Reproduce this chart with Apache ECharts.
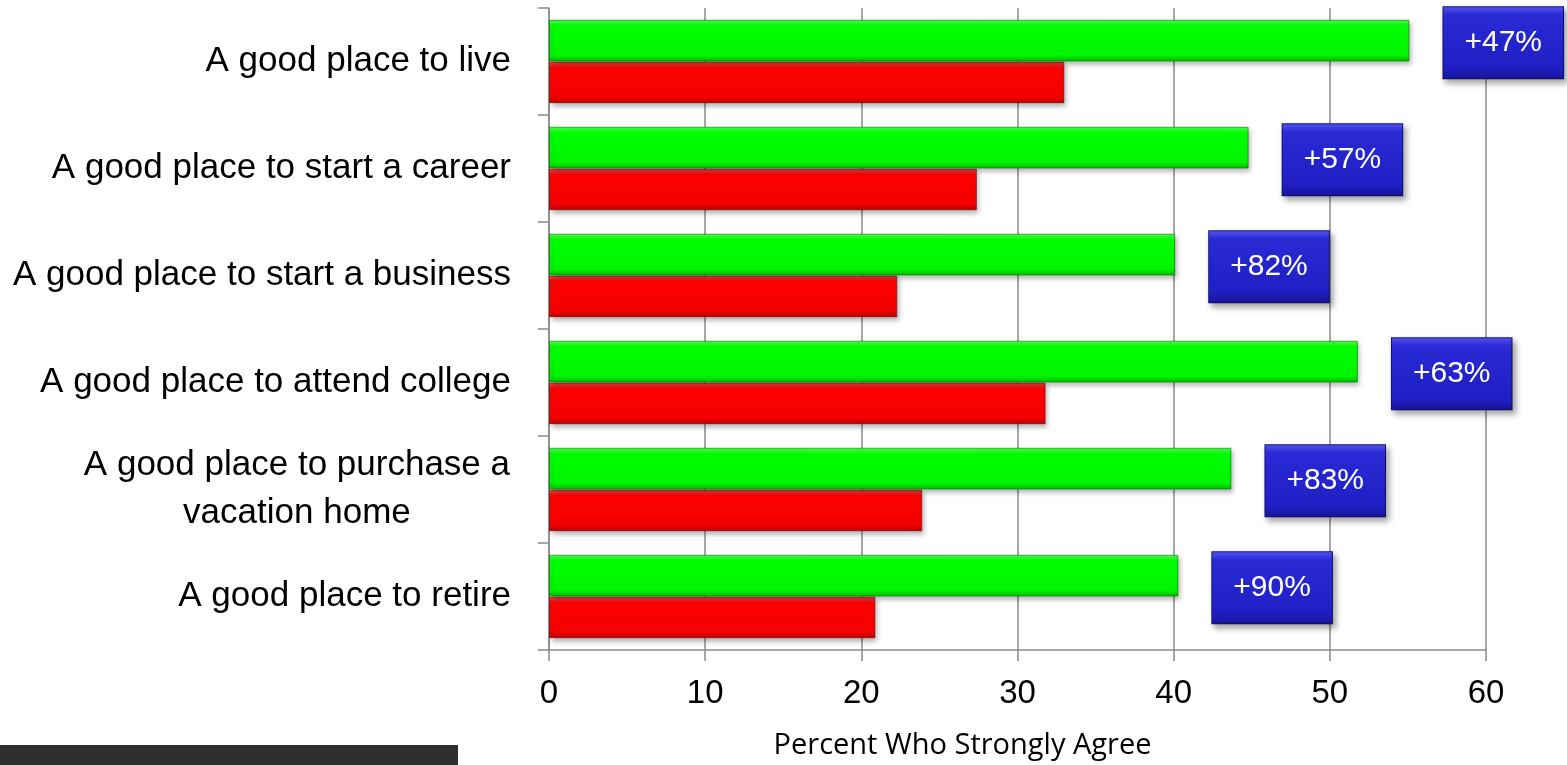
<!DOCTYPE html>
<html>
<head>
<meta charset="utf-8">
<script src="https://cdn.jsdelivr.net/npm/echarts@6/dist/echarts.min.js"></script>
<style>
  html, body { margin: 0; padding: 0; background: #ffffff; }
  #chart { width: 1567px; height: 765px; }
</style>
</head>
<body>
<div id="chart"></div>
<script>
// Categories, listed top to bottom
const categories = [
  'A good place to live',
  'A good place to start a career',
  'A good place to start a business',
  'A good place to attend college',
  'A good place to purchase a\nvacation home',
  'A good place to retire'
];
// Percent who strongly agree
const recentValues  = [55.1, 44.8, 40.1, 51.8, 43.7, 40.3];
const earlierValues = [33.0, 27.4, 22.3, 31.8, 23.9, 20.9];
// Change callouts shown beside each green bar
const changeLabels = ['+47%', '+57%', '+82%', '+63%', '+83%', '+90%'];
// Value-axis ticks
const xTicks = [0, 10, 20, 30, 40, 50, 60];

// Pick a condensed face for the category labels when one is installed
function measure(font, text) {
  const ctx = document.createElement('canvas').getContext('2d');
  ctx.font = font;
  return ctx.measureText(text).width;
}
const probe = 'A good place to start a business';
const hasNarrow = measure('40px "Liberation Sans Narrow", monospace', probe) !==
                  measure('40px monospace', probe);
const catFamily = hasNarrow ? '"Liberation Sans Narrow", "Arial Narrow", sans-serif'
                            : '"Liberation Sans", Arial, sans-serif';
const catSize = hasNarrow ? 41 : 35;

// Width of the widest line of a multi-line category, so lines can be centred
function multiLineWidth(label) {
  return Math.max.apply(null, label.split('\n').map(function (l) {
    return measure(catSize + 'px ' + catFamily, l);
  })) + 2;
}
const multiW = Math.max.apply(null, categories.filter(function (c) {
  return c.indexOf('\n') >= 0;
}).map(multiLineWidth).concat([10]));

const gray = '#8a8a8a';

function barGradient(light, base, mid, dark) {
  return new echarts.graphic.LinearGradient(0, 0, 0, 1, [
    { offset: 0, color: light },
    { offset: 0.15, color: base },
    { offset: 0.85, color: mid },
    { offset: 1, color: dark }
  ]);
}

const boxFill = new echarts.graphic.LinearGradient(0, 0, 0, 1, [
  { offset: 0, color: '#5656ee' },
  { offset: 0.12, color: '#2a2ad6' },
  { offset: 0.85, color: '#1f1fc4' },
  { offset: 1, color: '#15159a' }
]);

const chart = echarts.init(document.getElementById('chart'), null, { renderer: 'canvas' });

chart.setOption({
  animation: false,
  backgroundColor: '#ffffff',
  grid: { left: 549, right: 81, top: 8, bottom: 114 },
  xAxis: {
    type: 'value',
    min: xTicks[0],
    max: xTicks[xTicks.length - 1],
    interval: xTicks[1] - xTicks[0],
    name: 'Percent Who Strongly Agree',
    nameLocation: 'middle',
    nameGap: 81,
    nameTextStyle: {
      fontFamily: '"Open Sans", Lato, sans-serif',
      fontSize: 29,
      color: '#000000',
      padding: [0, 110, 0, 0]
    },
    axisLine: { show: true, lineStyle: { color: gray, width: 1.5 } },
    axisTick: { show: true, length: 11, lineStyle: { color: gray, width: 1.5 } },
    axisLabel: {
      margin: 27,
      fontFamily: '"Liberation Sans", Arial, sans-serif',
      fontSize: 33,
      color: '#000000'
    },
    splitLine: { show: true, lineStyle: { color: gray, width: 1.5 } }
  },
  yAxis: {
    type: 'category',
    data: categories,
    inverse: true,
    axisLine: { show: true, lineStyle: { color: gray, width: 1.5 } },
    axisTick: { show: true, length: 11, lineStyle: { color: gray, width: 1.5 } },
    axisLabel: {
      margin: 38,
      fontFamily: catFamily,
      fontSize: catSize,
      lineHeight: 48,
      color: '#000000',
      formatter: function (value) {
        if (value.indexOf('\n') < 0) return value;
        return value.split('\n').map(function (l) { return '{c|' + l + '}'; }).join('\n');
      },
      rich: {
        c: {
          width: multiW,
          align: 'center',
          fontFamily: catFamily,
          fontSize: catSize,
          lineHeight: 48,
          color: '#000000'
        }
      }
    },
    splitLine: { show: false }
  },
  series: [
    {
      name: 'Recent',
      type: 'bar',
      data: recentValues.map(function (v, i) {
        return {
          value: v,
          label: { offset: [0, i === 0 ? 2 : 12] }
        };
      }),
      barGap: '0%',
      barCategoryGap: '22%',
      itemStyle: {
        color: barGradient('#4dff4d', '#00ff00', '#00f400', '#00b800'),
        borderColor: 'rgba(0,110,0,0.55)',
        borderWidth: 1,
        shadowBlur: 5,
        shadowOffsetX: 2,
        shadowOffsetY: 3,
        shadowColor: 'rgba(0,0,0,0.3)'
      },
      label: {
        show: true,
        position: 'right',
        distance: 34,
        formatter: function (p) { return changeLabels[p.dataIndex]; },
        fontFamily: '"Liberation Sans", Arial, sans-serif',
        fontSize: 30,
        lineHeight: 31,
        color: '#ffffff',
        padding: [20, 21],
        backgroundColor: boxFill,
        borderColor: '#12127a',
        borderWidth: 1,
        shadowBlur: 6,
        shadowOffsetX: 3,
        shadowOffsetY: 4,
        shadowColor: 'rgba(0,0,0,0.35)'
      },
      z: 3
    },
    {
      name: 'Earlier',
      type: 'bar',
      data: earlierValues,
      itemStyle: {
        color: barGradient('#ff5050', '#ff0000', '#f40000', '#b80000'),
        borderColor: 'rgba(110,0,0,0.55)',
        borderWidth: 1,
        shadowBlur: 5,
        shadowOffsetX: 2,
        shadowOffsetY: 3,
        shadowColor: 'rgba(0,0,0,0.3)'
      },
      z: 2
    }
  ],
  graphic: [
    {
      type: 'rect',
      left: 0,
      top: 745,
      shape: { width: 458, height: 20 },
      style: { fill: '#2e2e2e' },
      silent: true
    }
  ]
});
</script>
</body>
</html>
